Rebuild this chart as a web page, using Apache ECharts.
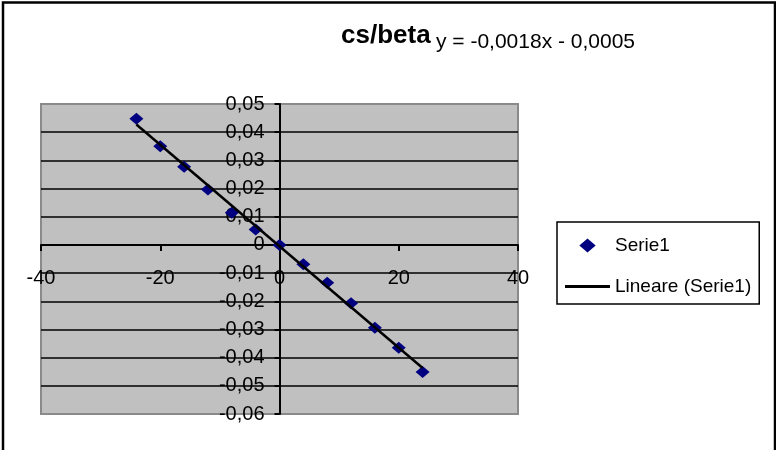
<!DOCTYPE html>
<html>
<head>
<meta charset="utf-8">
<script src="https://cdn.jsdelivr.net/npm/echarts@6/dist/echarts.min.js"></script>
<style>
  html, body { margin: 0; padding: 0; background: #fff; }
  #chart { width: 776px; height: 450px; }
</style>
</head>
<body>
<div id="chart"></div>
<script>
// Measured points (cs/beta)
const xValues = [-24, -20, -16, -12, -8, -4, 0, 4, 8, 12, 16, 20, 24];
const yValues = [0.0448, 0.035, 0.0277, 0.0197, 0.0114, 0.0055, 0, -0.0069, -0.0134, -0.0207, -0.0294, -0.0365, -0.0451];

// Linear trend line, as stated by its equation
const trendSlope = -0.0018;
const trendIntercept = -0.0005;
const trendRange = [-24, 24];

// Axis scales
const xMin = -40, xMax = 40, xStep = 20;
const yMin = -0.06, yMax = 0.05, yStep = 0.01;

const titleText = 'cs/beta';
const equationText = 'y = -0,0018x - 0,0005';
const seriesName = 'Serie1';
const trendName = 'Lineare (Serie1)';

const FONT = '"Liberation Sans", Arial, sans-serif';

const points = xValues.map((x, i) => [x, yValues[i]]);
const trendPoints = trendRange.map(x => [x, trendSlope * x + trendIntercept]);

const chart = echarts.init(document.getElementById('chart'), null, { renderer: 'canvas' });

const axisLineStyle = { color: '#000', width: 2 };

chart.setOption({
  animation: false,
  backgroundColor: '#ffffff',
  title: [
    {
      text: titleText,
      left: 341,
      top: 23,
      padding: 0,
      textStyle: { fontFamily: FONT, fontSize: 26, fontWeight: 'bold', color: '#000', lineHeight: 26 }
    },
    {
      text: equationText,
      left: 436,
      top: 32,
      padding: 0,
      textStyle: { fontFamily: FONT, fontSize: 21, fontWeight: 'normal', color: '#000', lineHeight: 21 }
    }
  ],
  legend: {
    orient: 'vertical',
    left: 557,
    top: 222,
    padding: [14, 8, 8, 8],
    itemGap: 22,
    itemWidth: 45,
    itemHeight: 14,
    symbolKeepAspect: true,
    borderColor: '#000',
    borderWidth: 1.5,
    backgroundColor: '#fff',
    textStyle: { fontFamily: FONT, fontSize: 19, color: '#000' },
    data: [
      { name: seriesName, icon: 'path://M0,-6L7,0L0,6L-7,0Z' },
      { name: trendName, icon: 'path://M0,0H45V3H0Z' }
    ]
  },
  grid: {
    left: 41,
    right: 258,
    top: 104,
    bottom: 36,
    containLabel: false,
    outerBoundsMode: 'none',
    show: true,
    backgroundColor: '#c0c0c0',
    borderColor: '#8a8a8a',
    borderWidth: 2
  },
  xAxis: {
    type: 'value',
    min: xMin,
    max: xMax,
    interval: xStep,
    position: 'bottom',
    axisLine: { onZero: false, lineStyle: axisLineStyle },
    axisTick: { show: true, inside: false, length: 6, lineStyle: axisLineStyle },
    axisLabel: { margin: 24, fontFamily: FONT, fontSize: 20, color: '#000' },
    splitLine: { show: false }
  },
  yAxis: {
    type: 'value',
    min: yMin,
    max: yMax,
    interval: yStep,
    position: 'left',
    axisLine: { onZero: false, lineStyle: axisLineStyle },
    axisTick: { show: true, inside: false, length: 5, lineStyle: axisLineStyle },
    axisLabel: {
      margin: 15,
      fontFamily: FONT,
      fontSize: 20,
      color: '#000',
      formatter: v => (Math.abs(v) < 1e-9 ? '0' : v.toFixed(2).replace('.', ','))
    },
    splitLine: { show: true, showMinLine: false, showMaxLine: false, lineStyle: { color: '#000', width: 1.5 } }
  },
  series: [
    {
      name: seriesName,
      type: 'scatter',
      data: points,
      symbol: 'diamond',
      symbolSize: [14, 12],
      itemStyle: { color: '#000080', opacity: 1 }
    },
    {
      name: trendName,
      type: 'line',
      data: trendPoints,
      symbol: 'none',
      showSymbol: false,
      lineStyle: { color: '#000', width: 2.5 },
      itemStyle: { color: '#000' }
    }
  ],
  graphic: [
    {
      type: 'polyline',
      shape: { points: [[3, 450], [3, 2.5], [775, 2.5], [775, 450]] },
      style: { stroke: '#000', lineWidth: 2.5, fill: null },
      silent: true
    }
  ]
});

// Axes cross at the origin: shift each axis (line, ticks and labels) onto zero.
const origin = chart.convertToPixel({ gridIndex: 0 }, [0, 0]);
const corner = chart.convertToPixel({ gridIndex: 0 }, [xMin, yMin]);
chart.setOption({
  xAxis: { offset: -(corner[1] - origin[1]) },
  yAxis: { offset: -(origin[0] - corner[0]) }
});
</script>
</body>
</html>
